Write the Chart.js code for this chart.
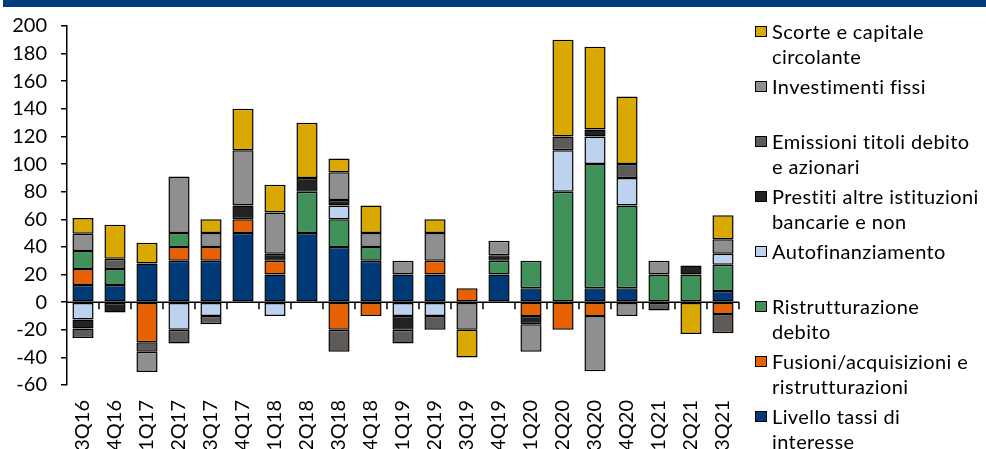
<!DOCTYPE html>
<html>
<head>
<meta charset="utf-8">
<script src="https://cdn.jsdelivr.net/npm/chart.js@4/dist/chart.umd.min.js"></script>
<style>
  html, body { margin: 0; padding: 0; background: #fff; }
  #wrap { position: relative; width: 986px; height: 449px; overflow: hidden; font-family: Lato, "Open Sans", sans-serif; }
  #band { position: absolute; left: 3px; top: 0; width: 983px; height: 7px; background: #003B7B; }
  #chart { position: absolute; left: 0; top: 0; }
  #legend { position: absolute; left: 755px; top: 19px; }
  .item { position: relative; height: 55px; }
  .box { position: absolute; left: 0; top: 7px; width: 10px; height: 9px; border: 1.5px solid #000; }
  .txt { position: absolute; left: 17px; top: 0; font-size: 20px; line-height: 25px; letter-spacing: 0.4px; color: #000; white-space: nowrap; }
</style>
</head>
<body>
<div id="wrap">
  <canvas id="chart" width="986" height="449"></canvas>
  <div id="band"></div>
  <div id="legend"></div>
</div>
<script>
// Quarters on the x axis
const categories = ['3Q16','4Q16','1Q17','2Q17','3Q17','4Q17','1Q18','2Q18','3Q18','4Q18',
  '1Q19','2Q19','3Q19','4Q19','1Q20','2Q20','3Q20','4Q20','1Q21','2Q21','3Q21'];

// Contributions by factor (null = no contribution in that quarter)
const livelloTassi      = [12.5, 12.5, 28, 30, 30, 50, 20, 50, 40, 30, 20, 20, null, 20, 10, null, 10, 10, null, null, 8];
const fusioni           = [11.5, null, -29, 10, 10, 10, 10, null, -20, -10, null, 10, 10, null, -10, -20, -10, null, null, null, -8.5];
const ristrutturazione  = [13, 11.5, null, 10, null, null, null, 30, 20, 10, null, null, null, 10, 20, 80, 90, 60, 20, 20, 19];
const autofinanziamento = [-12.5, null, null, -20, -10, null, -10, null, 10, null, -10, -10, null, null, null, 30, 20, 20, null, null, 8];
const prestiti          = [-6.5, -7.5, null, null, null, 10, 5, 10, 4, null, -10, null, null, 4, -6, null, 5, null, null, 6.5, null];
const emissioni         = [-7, 7.5, -7, -10, -6, null, null, null, -16, null, -10, -10, null, null, null, 10, null, 10, -6, null, -14];
const investimenti      = [12.5, null, -14.5, 41, 10, 40, 30, null, 20, 10, 10, 20, -20, 10.5, -20, null, -40, -10, 10, null, 10.5];
const scorte            = [11.5, 24.5, 15, null, 10, 30, 20, 40, 10, 20, null, 10, -20, null, null, 70, 60, 49, null, -23, 17.5];

// Y axis range and step
const yMin = -60, yMax = 200, yStep = 20;

// Series names, split into the lines shown in the legend
const nameLivello   = ['Livello tassi di', 'interesse'];
const nameFusioni   = ['Fusioni/acquisizioni e', 'ristrutturazioni'];
const nameRistr     = ['Ristrutturazione', 'debito'];
const nameAutofin   = ['Autofinanziamento'];
const namePrestiti  = ['Prestiti altre istituzioni', 'bancarie e non'];
const nameEmissioni = ['Emissioni titoli debito', 'e azionari'];
const nameInvest    = ['Investimenti fissi'];
const nameScorte    = ['Scorte e capitale', 'circolante'];

const series = [
  { lines: nameLivello,   data: livelloTassi,      color: '#003A78' },
  { lines: nameFusioni,   data: fusioni,           color: '#E86100' },
  { lines: nameRistr,     data: ristrutturazione,  color: '#41915B' },
  { lines: nameAutofin,   data: autofinanziamento, color: '#BDD2EE' },
  { lines: namePrestiti,  data: prestiti,          color: '#222222' },
  { lines: nameEmissioni, data: emissioni,         color: '#5E5A57' },
  { lines: nameInvest,    data: investimenti,      color: '#8F8F8F' },
  { lines: nameScorte,    data: scorte,            color: '#DAA900' }
];

const FONT = 'Lato';

// Horizontal zero line with short tick marks between quarters
const zeroAxis = {
  id: 'zeroAxis',
  afterDatasetsDraw(chart) {
    const { ctx, chartArea, scales: { x, y } } = chart;
    const y0 = y.getPixelForValue(0);
    ctx.save();
    ctx.strokeStyle = '#000';
    ctx.lineWidth = 1.5;
    ctx.beginPath();
    ctx.moveTo(chartArea.left, y0);
    ctx.lineTo(chartArea.right, y0);
    const half = (x.getPixelForValue(1) - x.getPixelForValue(0)) / 2;
    for (let i = 0; i < categories.length; i++) {
      const px = Math.round(x.getPixelForValue(i) + half);
      ctx.moveTo(px, y0);
      ctx.lineTo(px, y0 + 7);
    }
    ctx.stroke();
    ctx.restore();
  }
};

const chart = new Chart(document.getElementById('chart'), {
  type: 'bar',
  data: {
    labels: categories,
    datasets: series.map(s => ({
      label: s.lines.join(' '),
      data: s.data,
      backgroundColor: s.color,
      borderColor: '#000',
      borderWidth: 1.5,
      borderSkipped: false,
      barPercentage: 0.66,
      categoryPercentage: 1
    }))
  },
  options: {
    responsive: false,
    animation: false,
    layout: { padding: { left: 12, right: 247, top: 24, bottom: 0 } },
    plugins: { legend: { display: false }, tooltip: { enabled: false } },
    scales: {
      x: {
        stacked: true,
        grid: { display: false },
        border: { display: false },
        ticks: {
          autoSkip: false, minRotation: 90, maxRotation: 90, padding: 7,
          color: '#000', font: { family: FONT, size: 20 }
        },
        afterFit(s) { s.height = 64; }
      },
      y: {
        stacked: true,
        min: yMin, max: yMax,
        border: { display: true, color: '#000', width: 1.5 },
        grid: { drawOnChartArea: false, drawTicks: true, tickLength: 6, color: '#000', lineWidth: 1.5 },
        ticks: { stepSize: yStep, padding: 14, color: '#000', font: { family: FONT, size: 20 } },
        afterFit(s) { s.width = 55; }
      }
    }
  },
  plugins: [zeroAxis]
});

// Legend built from the datasets, top entry = last stacked series
const legend = document.getElementById('legend');
series.slice().reverse().forEach(s => {
  const item = document.createElement('div');
  item.className = 'item';
  const box = document.createElement('div');
  box.className = 'box';
  box.style.background = s.color;
  const txt = document.createElement('div');
  txt.className = 'txt';
  txt.innerHTML = s.lines.map(l => l.replace(/&/g, '&amp;')).join('<br>');
  item.appendChild(box);
  item.appendChild(txt);
  legend.appendChild(item);
});
</script>
</body>
</html>
